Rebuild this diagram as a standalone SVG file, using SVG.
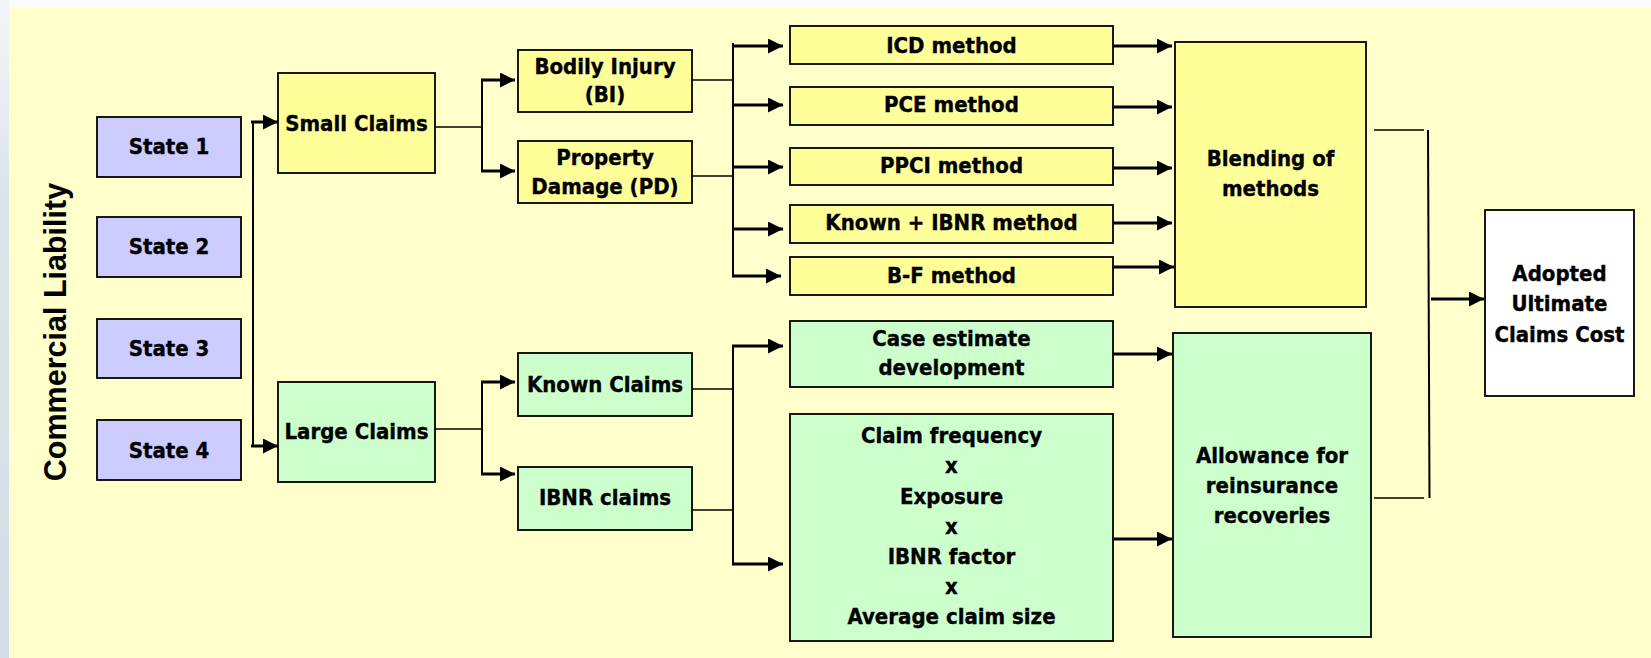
<svg xmlns="http://www.w3.org/2000/svg" width="1651" height="658" viewBox="0 0 1651 658">
  <style>
    .box { stroke: #000; stroke-width: 1.8; }
    .blue { fill: #CCCCFF; }
    .yel { fill: #FFFF99; }
    .grn { fill: #CCFFCC; }
    .wht { fill: #FFFFFF; }
    .lbl { font-family: "DejaVu Sans", "Liberation Sans", sans-serif; font-stretch: condensed; font-weight: bold; font-size: 22px; fill: #000; stroke: #000; stroke-width: 0.35; text-anchor: middle; }
    .side { font-family: "Liberation Sans", Arial, sans-serif; font-weight: bold; font-size: 30.5px; fill: #000; text-anchor: middle; }
    .thin { fill: none; stroke: #000; stroke-width: 1.4; }
    .trunk { fill: none; stroke: #000; stroke-width: 2; }
    .arr { fill: none; stroke: #000; stroke-width: 3; marker-end: url(#head); }
  </style>
  <defs>
    <marker id="head" markerUnits="userSpaceOnUse" markerWidth="16" markerHeight="16" refX="15" refY="7.5" orient="auto">
      <path d="M0,0 L15,7.5 L0,15 Z" fill="#000"/>
    </marker>
    <linearGradient id="edge" x1="0" y1="0" x2="0" y2="1">
      <stop offset="0" stop-color="#F4F6F8"/>
      <stop offset="0.3" stop-color="#DCE4EA"/>
      <stop offset="1" stop-color="#D2DDE5"/>
    </linearGradient>
  </defs>

  <!-- page background -->
  <rect x="0" y="0" width="1651" height="658" fill="#FBFCFD"/>
  <rect x="0" y="0" width="9" height="658" fill="url(#edge)"/>
  <rect x="9" y="8" width="1642" height="650" fill="#FFFFCC"/>

  <!-- side title -->
  <text class="side" transform="translate(66,332) rotate(-90)" x="0" y="0">Commercial Liability</text>

  <!-- connectors -->
  <g id="connectors">
    <!-- states to claim size -->
    <path class="trunk" d="M253,122 V446"/>
    <path class="arr" d="M251,122 H278"/>
    <path class="arr" d="M251,446 H278"/>

    <!-- small claims split -->
    <path class="thin" d="M435,127 H482"/>
    <path class="trunk" d="M482,79 V171"/>
    <path class="arr" d="M481,80 H515"/>
    <path class="arr" d="M481,171 H515"/>

    <!-- large claims split -->
    <path class="thin" d="M435,429 H482"/>
    <path class="trunk" d="M482,382 V474"/>
    <path class="arr" d="M481,382 H515"/>
    <path class="arr" d="M481,474 H515"/>

    <!-- BI / PD to methods -->
    <path class="thin" d="M692,80 H733"/>
    <path class="thin" d="M692,176 H733"/>
    <path class="trunk" d="M733,43 V277"/>
    <path class="arr" d="M732,46 H783"/>
    <path class="arr" d="M732,105 H783"/>
    <path class="arr" d="M732,167 H783"/>
    <path class="arr" d="M732,229 H783"/>
    <path class="arr" d="M732,276 H781"/>

    <!-- known / IBNR to estimates -->
    <path class="thin" d="M692,389 H733"/>
    <path class="thin" d="M692,510 H733"/>
    <path class="trunk" d="M733,345 V565"/>
    <path class="arr" d="M732,346 H783"/>
    <path class="arr" d="M732,564 H783"/>

    <!-- methods to blending -->
    <path class="arr" d="M1113,46 H1172"/>
    <path class="arr" d="M1113,107 H1172"/>
    <path class="arr" d="M1113,168 H1172"/>
    <path class="arr" d="M1113,223 H1172"/>
    <path class="arr" d="M1113,267 H1174"/>

    <!-- large claim estimates to reinsurance -->
    <path class="arr" d="M1113,354 H1172"/>
    <path class="arr" d="M1113,539 H1172"/>

    <!-- merge to adopted cost -->
    <path class="thin" d="M1374,130 H1424"/>
    <path class="thin" d="M1374,498 H1424"/>
    <path class="trunk" d="M1428,130 L1429.5,498"/>
    <path class="arr" d="M1431,299 H1484"/>
  </g>

  <!-- states -->
  <g id="state1"><rect class="box blue" x="97" y="117" width="144" height="60"/><text class="lbl" x="169" y="154">State 1</text></g>
  <g id="state2"><rect class="box blue" x="97" y="217" width="144" height="60"/><text class="lbl" x="169" y="254">State 2</text></g>
  <g id="state3"><rect class="box blue" x="97" y="319" width="144" height="59"/><text class="lbl" x="169" y="356">State 3</text></g>
  <g id="state4"><rect class="box blue" x="97" y="420" width="144" height="60"/><text class="lbl" x="169" y="458">State 4</text></g>

  <!-- claim size -->
  <g id="small-claims"><rect class="box yel" x="278" y="73" width="157" height="100"/><text class="lbl" x="356.5" y="131">Small Claims</text></g>
  <g id="large-claims"><rect class="box grn" x="278" y="382" width="157" height="100"/><text class="lbl" x="356.5" y="439">Large Claims</text></g>

  <!-- claim types -->
  <g id="bodily-injury"><rect class="box yel" x="518" y="50" width="174" height="62"/><text class="lbl" x="605" y="74">Bodily Injury</text><text class="lbl" x="605" y="102">(BI)</text></g>
  <g id="property-damage"><rect class="box yel" x="518" y="141" width="174" height="62"/><text class="lbl" x="605" y="165">Property</text><text class="lbl" x="605" y="194">Damage (PD)</text></g>
  <g id="known-claims"><rect class="box grn" x="518" y="353" width="174" height="63"/><text class="lbl" x="605" y="392">Known Claims</text></g>
  <g id="ibnr-claims"><rect class="box grn" x="518" y="467" width="174" height="63"/><text class="lbl" x="605" y="505">IBNR claims</text></g>

  <!-- projection methods -->
  <g id="icd"><rect class="box yel" x="790" y="26" width="323" height="38"/><text class="lbl" x="951.5" y="53">ICD method</text></g>
  <g id="pce"><rect class="box yel" x="790" y="87" width="323" height="38"/><text class="lbl" x="951.5" y="112">PCE method</text></g>
  <g id="ppci"><rect class="box yel" x="790" y="148" width="323" height="37"/><text class="lbl" x="951.5" y="173">PPCI method</text></g>
  <g id="known-ibnr"><rect class="box yel" x="790" y="205" width="323" height="38"/><text class="lbl" x="951.5" y="230">Known + IBNR method</text></g>
  <g id="bf"><rect class="box yel" x="790" y="257" width="323" height="38"/><text class="lbl" x="951.5" y="283">B-F method</text></g>

  <g id="case-estimate"><rect class="box grn" x="790" y="321" width="323" height="66"/><text class="lbl" x="951.5" y="346">Case estimate</text><text class="lbl" x="951.5" y="375">development</text></g>
  <g id="ibnr-formula"><rect class="box grn" x="790" y="414" width="323" height="227"/>
    <text class="lbl" x="951.5" y="443">Claim frequency</text>
    <text class="lbl" x="951.5" y="473">x</text>
    <text class="lbl" x="951.5" y="503.5">Exposure</text>
    <text class="lbl" x="951.5" y="533.5">x</text>
    <text class="lbl" x="951.5" y="564">IBNR factor</text>
    <text class="lbl" x="951.5" y="594">x</text>
    <text class="lbl" x="951.5" y="624">Average claim size</text>
  </g>

  <!-- combination -->
  <g id="blending"><rect class="box yel" x="1175" y="42" width="191" height="265"/><text class="lbl" x="1270.5" y="166">Blending of</text><text class="lbl" x="1270.5" y="196">methods</text></g>
  <g id="reinsurance"><rect class="box grn" x="1173" y="333" width="198" height="304"/><text class="lbl" x="1272" y="463">Allowance for</text><text class="lbl" x="1272" y="493">reinsurance</text><text class="lbl" x="1272" y="523">recoveries</text></g>

  <g id="adopted"><rect class="box wht" x="1485" y="210" width="149" height="186"/><text class="lbl" x="1559.5" y="281">Adopted</text><text class="lbl" x="1559.5" y="311">Ultimate</text><text class="lbl" x="1559.5" y="342">Claims Cost</text></g>
</svg>
